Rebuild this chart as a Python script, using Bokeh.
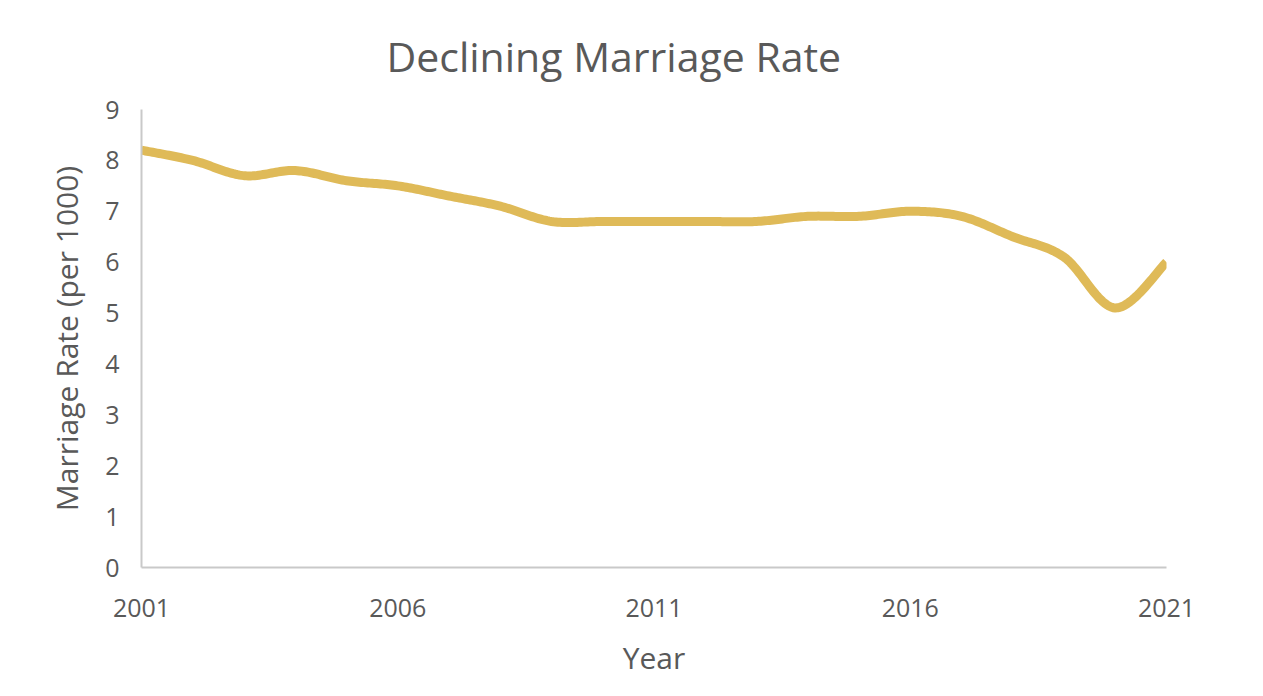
import numpy as np
from bokeh.plotting import figure
from bokeh.models import Range1d, FixedTicker, Title
from bokeh.embed import file_html
from bokeh.resources import INLINE

years = list(range(2001, 2022))
rates = [8.2, 8.0, 7.7, 7.8, 7.6, 7.5, 7.3, 7.1, 6.8, 6.8, 6.8,
         6.8, 6.8, 6.9, 6.9, 7.0, 6.9, 6.5, 6.1, 5.1, 6.0]
x_ticks = [2001, 2006, 2011, 2016, 2021]
y_ticks = list(range(0, 10))
title_text = "Declining Marriage Rate"

TEXT = "#595959"
FONT = "Open Sans"
W, H = 1247, 680


def smooth(xs, ys, n=24):
    xs = np.asarray(xs, float)
    ys = np.asarray(ys, float)
    px = np.concatenate([[xs[0]], xs, [xs[-1]]])
    py = np.concatenate([[ys[0]], ys, [ys[-1]]])
    ox, oy = [], []
    for i in range(1, len(px) - 2):
        p0 = np.array([px[i - 1], py[i - 1]])
        p1 = np.array([px[i], py[i]])
        p2 = np.array([px[i + 1], py[i + 1]])
        p3 = np.array([px[i + 2], py[i + 2]])
        c1 = p1 + (p2 - p0) / 6.0
        c2 = p2 - (p3 - p1) / 6.0
        t = np.linspace(0, 1, n, endpoint=(i == len(px) - 3))
        for tt in t:
            b = ((1 - tt) ** 3) * p1 + 3 * ((1 - tt) ** 2) * tt * c1 + 3 * (1 - tt) * tt ** 2 * c2 + tt ** 3 * p2
            ox.append(b[0])
            oy.append(b[1])
    return ox, oy


x0, x1 = years[0], years[-1]
y0, y1 = y_ticks[0], y_ticks[-1]

p = figure(width=W, height=H, output_backend="svg", toolbar_location=None,
           x_range=Range1d(x0, x1), y_range=Range1d(y0, y1),
           min_border_left=141, min_border_right=81, min_border_top=108, min_border_bottom=112)

sx, sy = smooth(years, rates)
p.line(sx, sy, line_color="#DFBA58", line_width=9, line_cap="butt", line_join="round")

p.add_layout(Title(text=title_text, align="left", text_font=FONT,
                   text_font_size="41px", text_font_style="normal", text_color=TEXT,
                   offset=245, standoff=51), "above")

p.xgrid.visible = False
p.ygrid.visible = False
p.outline_line_color = None

for ax in (p.xaxis[0], p.yaxis[0]):
    ax.axis_line_color = "#C9C9C9"
    ax.axis_line_width = 2
    ax.major_tick_line_color = None
    ax.minor_tick_line_color = None
    ax.major_label_text_font = FONT
    ax.major_label_text_font_size = "25px"
    ax.major_label_text_color = TEXT
    ax.axis_label_text_font = FONT
    ax.axis_label_text_font_size = "30px"
    ax.axis_label_text_font_style = "normal"
    ax.axis_label_text_color = TEXT

p.xaxis.ticker = FixedTicker(ticks=x_ticks)
p.yaxis.ticker = FixedTicker(ticks=y_ticks)
p.xaxis.axis_label = "Year"
p.yaxis.axis_label = "Marriage Rate (per 1000)"
p.xaxis.major_label_standoff = 25
p.yaxis.major_label_standoff = 16
p.xaxis.axis_label_standoff = 17
p.yaxis.axis_label_standoff = 15

open("out.html", "w").write(file_html(p, INLINE))
